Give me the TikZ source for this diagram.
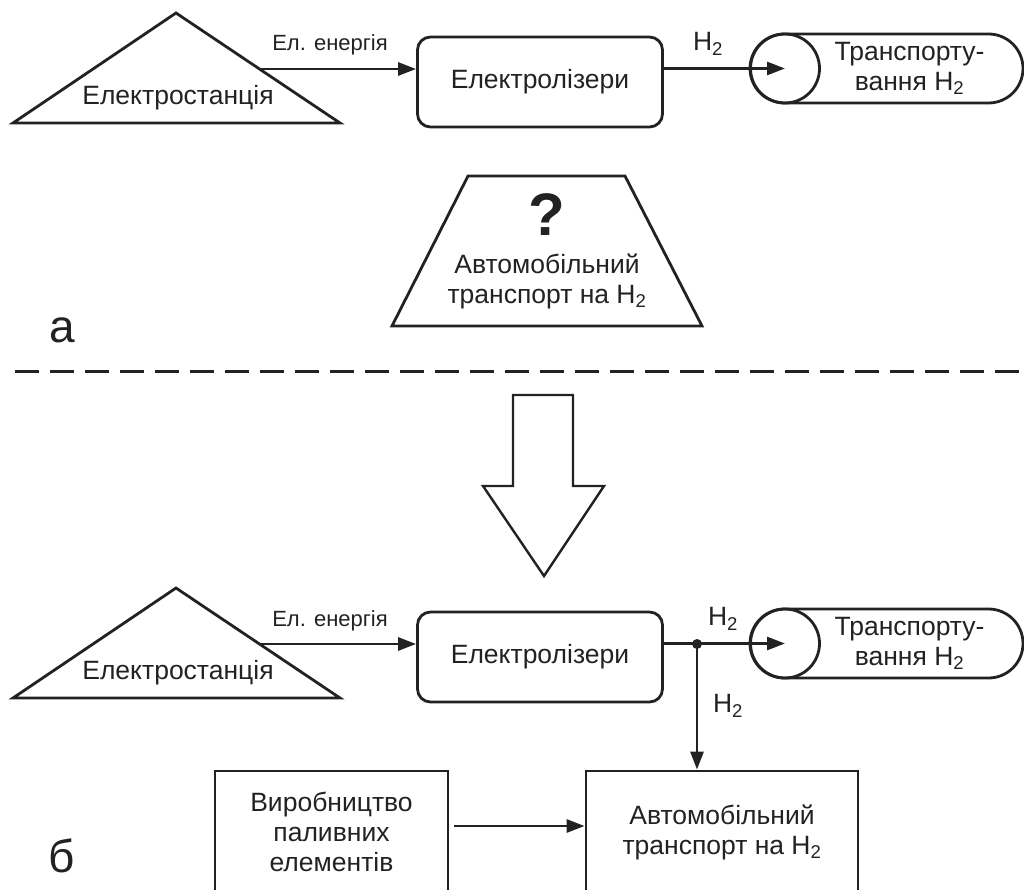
\documentclass[tikz,border=0pt]{standalone}
\usepackage{fontspec}
\setmainfont{Liberation Sans}
\usetikzlibrary{arrows.meta, positioning, shapes.misc}
\definecolor{ink}{HTML}{222222}

\begin{document}
\begin{tikzpicture}[x=1pt, y=-1pt,
  txt/.style={font=\fontsize{26.5}{30}\selectfont, text=ink, align=center, inner sep=0pt},
  small/.style={font=\fontsize{22}{26}\selectfont, text=ink, inner sep=0pt},
  big/.style={font=\fontsize{46}{46}\selectfont, text=ink, inner sep=0pt},
  shp/.style={draw=ink, line width=2.8pt, line join=miter},
  proc/.style={shp, txt, rounded corners=13pt, minimum width=245pt, minimum height=90pt},
  unit/.style={shp, txt, minimum height=122pt},
  tube/.style={shp, rounded rectangle, minimum width=273pt, minimum height=69pt, inner sep=0pt},
  tubeend/.style={shp, circle, minimum size=69pt, inner sep=0pt},
  dot/.style={circle, fill=ink, inner sep=0pt, minimum size=10pt},
  arr/.style={-{Triangle[length=18pt, width=13pt]}, line width=2.8pt, draw=ink}
]
\useasboundingbox (0,0) rectangle (1024,890);
\clip (0,0) rectangle (1024,890);

% --- a ---
\draw[shp] (176,13) -- (340,123) -- (13,123) -- cycle;
\node[txt] (plant1) at (178,98) {Електростанція};
\coordinate (pout1) at (260,69);
\node[proc] (elz1) at (540,82) {Електролізери};
\node[tube, label={[txt, xshift=23pt]center:Транспорту-\\вання H\textsubscript{2}}] (trans1) at (886.5,68.5) {};
\node[tubeend] (tend1) at (785,68.5) {};
\node[small] (en1) at (330,45) {Ел. енергія};
\node[txt] (h2a) at (708,44) {H\textsubscript{2}};

\draw[arr] (pout1) -- (elz1.west |- pout1);
\draw[arr] (elz1.east |- tend1) -- (tend1.center);

\draw[shp] (468,176) -- (625,176) -- (702,326) -- (392,326) -- cycle;
\node[txt] (car1) at (547,251)
  {{\fontsize{60}{60}\selectfont\bfseries ?}\\[8pt]Автомобільний\\транспорт на H\textsubscript{2}};
\node[big] (capa) at (62,330) {а};

\draw[ink, line width=3pt, dash pattern=on 24pt off 11pt] (15,371) -- (1030,371);

% transition
\draw[shp, line width=2.4pt] (513,395) -- (573,395) -- (573,486) -- (604,486) -- (544,576)
  -- (483,486) -- (513,486) -- cycle;

% --- b ---
\draw[shp] (176,588) -- (340,698) -- (13,698) -- cycle;
\node[txt] (plant2) at (178,673) {Електростанція};
\coordinate (pout2) at (260,644);
\node[proc] (elz2) at (540,657) {Електролізери};
\node[tube, label={[txt, xshift=23pt]center:Транспорту-\\вання H\textsubscript{2}}] (trans2) at (886.5,643.5) {};
\node[tubeend] (tend2) at (785,643.5) {};
\node[small] (en2) at (330,621) {Ел. енергія};
\node[dot] (split) at (697,644) {};
\node[txt] (h2b) at (723,619) {H\textsubscript{2}};
\node[txt] (h2c) at (728,706) {H\textsubscript{2}};

\node[unit, minimum width=233pt] (cells) at (331.5,832) {Виробництво\\паливних\\елементів};
\node[unit, minimum width=272pt] (car2) at (722,832) {Автомобільний\\транспорт на H\textsubscript{2}};
\node[big] (capb) at (62,856) {б};

\draw[arr] (pout2) -- (elz2.west |- pout2);
\draw[arr] (elz2.east |- tend2) -- (tend2.center);
\draw[arr] (split.center) -- (split.center |- car2.north);
\draw[arr, shorten <=5pt] ([yshift=6pt]cells.east) -- ([yshift=6pt]car2.west);
\end{tikzpicture}
\end{document}
